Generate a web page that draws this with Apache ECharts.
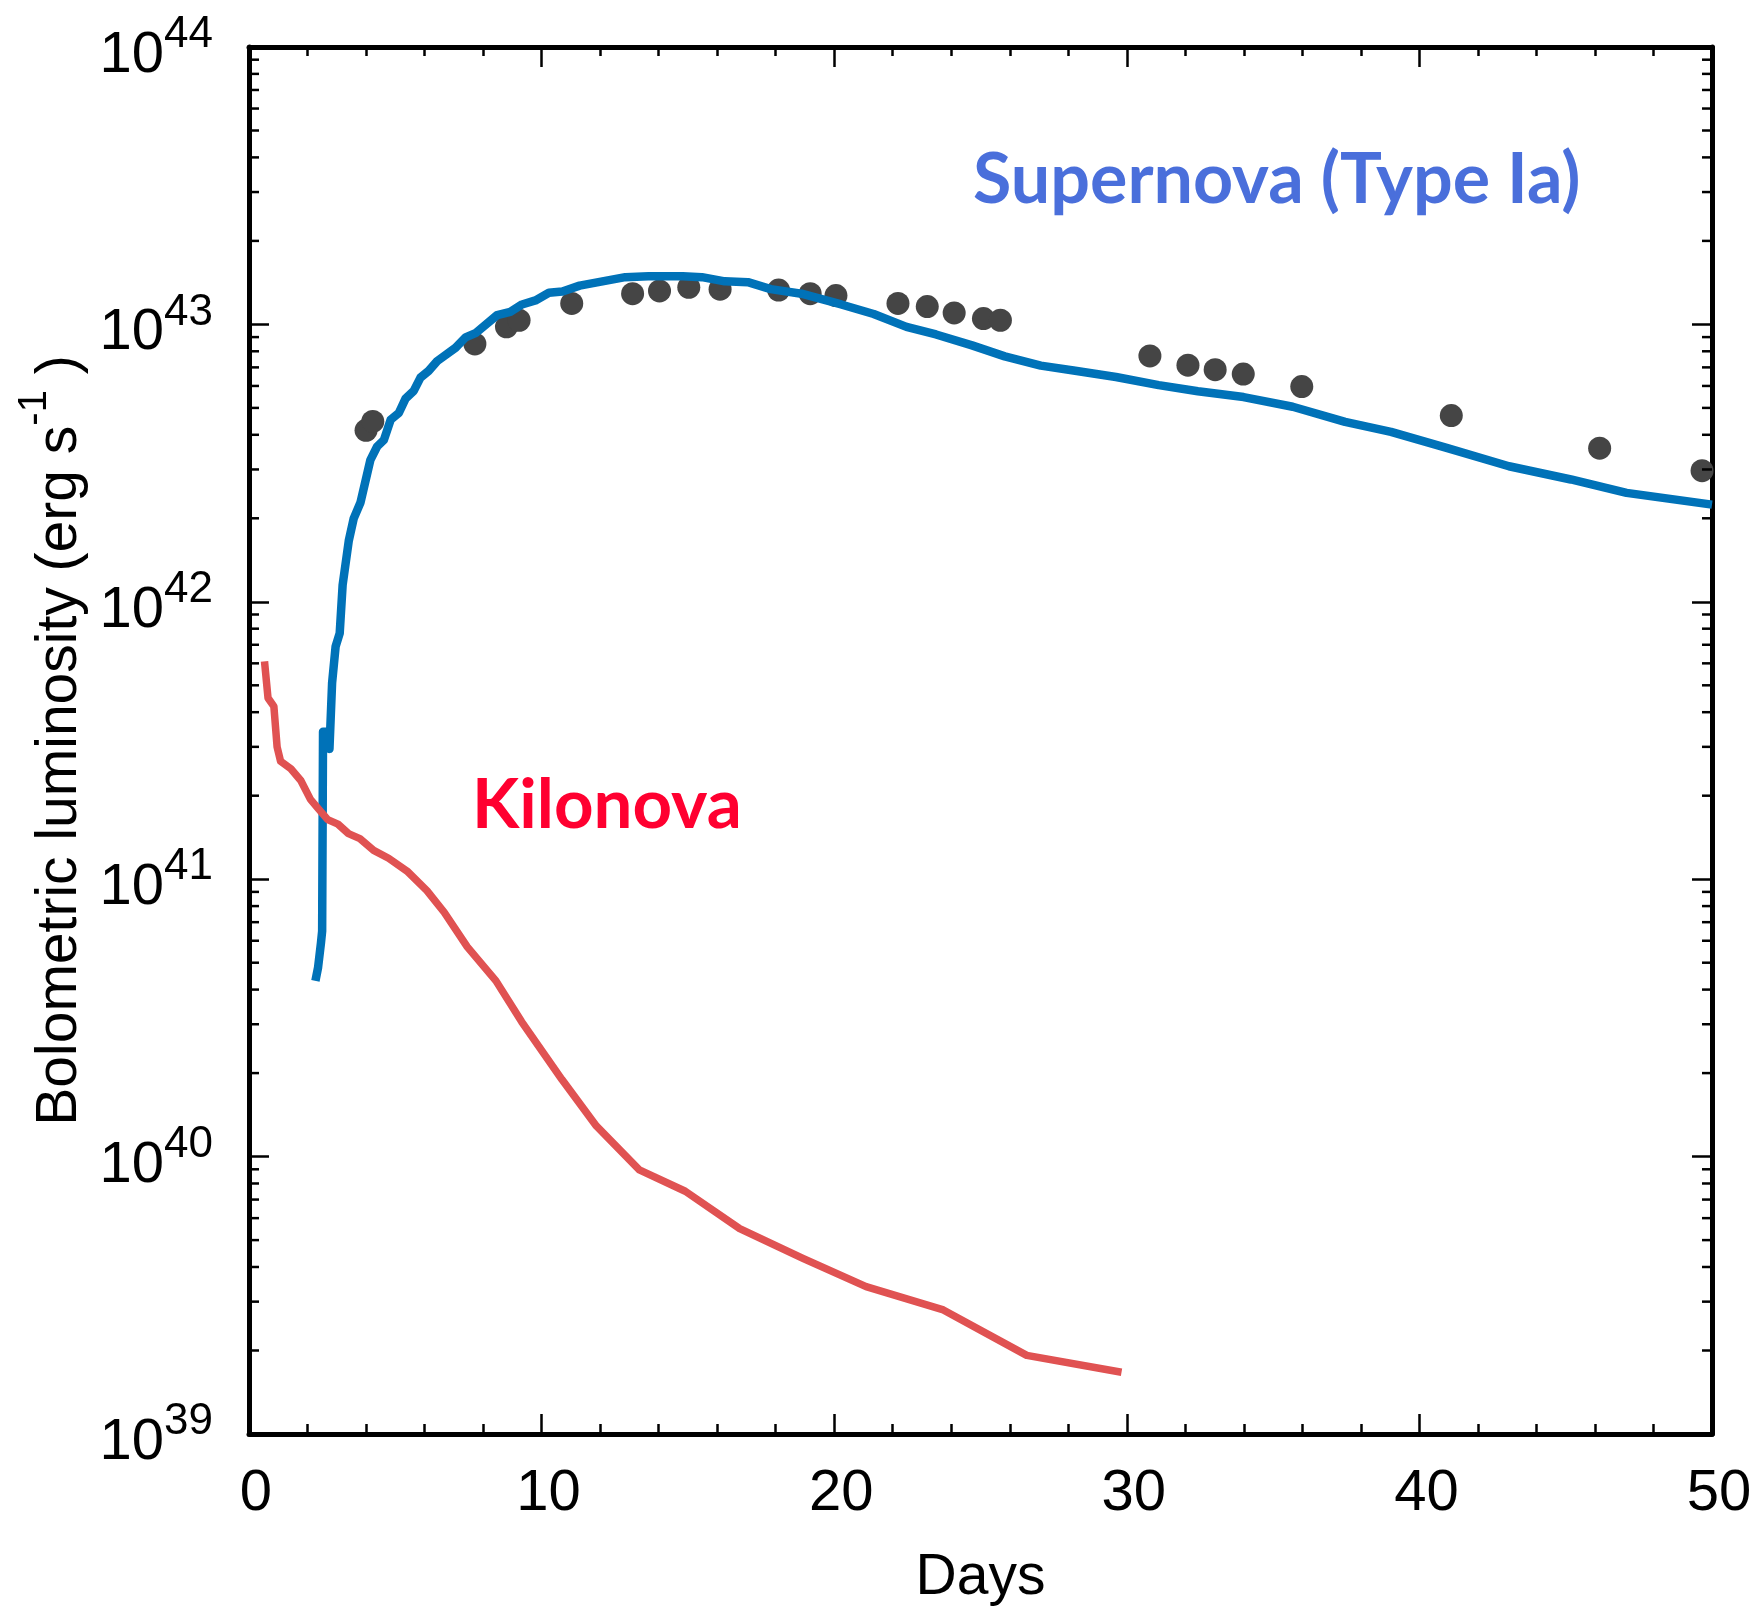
<!DOCTYPE html>
<html>
<head>
<meta charset="utf-8">
<script src="https://cdn.jsdelivr.net/npm/echarts@6/dist/echarts.min.js"></script>
<style>
  html, body { margin: 0; padding: 0; background: #fff; }
  #chart { width: 1764px; height: 1612px; }
</style>
</head>
<body>
<div id="chart"></div>
<script>
// Type Ia supernova model light curve
const snModelDays = [2.27, 2.36, 2.46, 2.50, 2.53, 2.68, 2.75, 2.84, 2.96, 3.10, 3.20, 3.41, 3.58, 3.81,
  4.15, 4.38, 4.61, 4.84, 5.12, 5.35, 5.63, 5.86, 6.14, 6.43, 7.06, 7.40, 7.74, 8.48, 8.93, 9.33,
  9.79, 10.25, 10.71, 11.30, 12.08, 12.86, 13.65, 14.83, 15.48, 16.26, 17.05, 17.83, 18.88, 20.24,
  21.35, 22.47, 23.48, 24.71, 25.83, 27.06, 28.18, 29.63, 31.09, 32.43, 33.99, 35.67, 37.46, 39.03,
  40.93, 43.06, 45.18, 47.08, 50.0];
const snModelLum = [4.3e40, 4.8e40, 5.9e40, 6.5e40, 3.4e41, 3.4e41, 2.95e41, 5.1e41, 6.9e41, 7.7e41,
  1.15e42, 1.66e42, 2.0e42, 2.28e42, 3.25e42, 3.63e42, 3.83e42, 4.53e42, 4.79e42, 5.4e42, 5.76e42,
  6.43e42, 6.8e42, 7.37e42, 8.24e42, 8.98e42, 9.3e42, 1.08e43, 1.11e43, 1.18e43, 1.22e43, 1.30e43,
  1.315e43, 1.38e43, 1.43e43, 1.48e43, 1.49e43, 1.49e43, 1.48e43, 1.43e43, 1.42e43, 1.34e43, 1.29e43,
  1.18e43, 1.09e43, 9.8e42, 9.2e42, 8.4e42, 7.67e42, 7.1e42, 6.82e42, 6.46e42, 6.04e42, 5.74e42,
  5.47e42, 5.05e42, 4.45e42, 4.10e42, 3.59e42, 3.08e42, 2.76e42, 2.47e42, 2.24e42];

// Observed supernova bolometric luminosities
const snObsDays = [4.00, 4.23, 7.72, 8.80, 9.23, 11.03, 13.11, 14.03, 15.03, 16.10, 18.10, 19.18, 20.06,
  22.18, 23.18, 24.10, 25.10, 25.68, 30.79, 32.09, 33.02, 33.98, 35.98, 41.09, 46.16, 49.66];
const snObsLum = [4.15e42, 4.47e42, 8.5e42, 9.8e42, 1.035e43, 1.19e43, 1.29e43, 1.32e43, 1.36e43,
  1.34e43, 1.33e43, 1.29e43, 1.27e43, 1.19e43, 1.16e43, 1.10e43, 1.05e43, 1.035e43, 7.7e42, 7.13e42,
  6.87e42, 6.62e42, 5.97e42, 4.69e42, 3.58e42, 2.97e42];

// Kilonova model light curve
const knDays = [0.53, 0.65, 0.85, 0.96, 1.08, 1.43, 1.77, 2.10, 2.36, 2.69, 3.04, 3.40, 3.79, 4.26,
  4.77, 5.40, 6.08, 6.67, 7.46, 8.44, 9.32, 10.69, 11.87, 13.34, 14.91, 16.77, 18.93, 21.09, 23.73,
  26.58, 29.82];
const knLum = [6.1e41, 4.5e41, 4.2e41, 3.0e41, 2.66e41, 2.5e41, 2.27e41, 1.94e41, 1.80e41, 1.64e41,
  1.58e41, 1.46e41, 1.40e41, 1.27e41, 1.19e41, 1.07e41, 9.1e40, 7.6e40, 5.7e40, 4.3e40, 3.06e40,
  1.9e40, 1.29e40, 8.95e39, 7.5e39, 5.5e39, 4.3e39, 3.4e39, 2.8e39, 1.92e39, 1.67e39];

// Axis ticks
const xTickValues = [0, 10, 20, 30, 40, 50];
const yTickExponents = [39, 40, 41, 42, 43, 44];
const yMinorMantissas = [2, 3, 4, 5, 6, 7, 8, 9];

const zip = (xs, ys) => xs.map((x, i) => [x, ys[i]]);

const xMin = xTickValues[0];
const xMax = xTickValues[xTickValues.length - 1];
const yMin = Math.pow(10, yTickExponents[0]);
const yMax = Math.pow(10, yTickExponents[yTickExponents.length - 1]);

// minor ticks of the log axis: 2..9 within each decade
const yMinorTicks = [];
yTickExponents.slice(0, -1).forEach(e => {
  yMinorMantissas.forEach(m => yMinorTicks.push([xMin, m * Math.pow(10, e)]));
});

const FONT = '"Liberation Sans", Arial, Helvetica, sans-serif';
const LABEL_FONT = 'Lato, "Open Sans", sans-serif';
const AXIS_W = 5;
const TICK_W = 2.5;

const axisLine = { show: true, onZero: false, lineStyle: { color: '#000', width: AXIS_W } };
const majorTick = { show: true, inside: true, length: 20, lineStyle: { color: '#000', width: TICK_W } };
const minorTick = { show: true, splitNumber: 5, length: 10, lineStyle: { color: '#000', width: TICK_W } };

const chart = echarts.init(document.getElementById('chart'), null, { renderer: 'canvas' });

chart.setOption({
  backgroundColor: '#fff',
  animation: false,
  grid: { left: 249, top: 47, width: 1463, height: 1389 },
  xAxis: [
    {
      type: 'value', min: xMin, max: xMax, interval: 10, position: 'bottom',
      name: 'Days', nameLocation: 'middle', nameGap: 116,
      nameTextStyle: { fontFamily: FONT, fontSize: 57, color: '#000' },
      axisLine: axisLine, axisTick: majorTick, minorTick: minorTick,
      splitLine: { show: false },
      axisLabel: {
        show: true, fontFamily: FONT, fontSize: 58, color: '#000', margin: 31,
        padding: [0, 0, 0, 14], showMinLabel: true, showMaxLabel: true
      }
    },
    {
      type: 'value', min: xMin, max: xMax, interval: 10, position: 'top',
      axisLine: axisLine, axisTick: majorTick,
      minorTick: { show: true, splitNumber: 5, length: 9, lineStyle: { color: '#000', width: TICK_W } },
      splitLine: { show: false }, axisLabel: { show: false }
    }
  ],
  yAxis: [
    {
      type: 'log', logBase: 10, min: yMin, max: yMax, position: 'left',
      name: '{t|Bolometric luminosity (erg s}{u|-1}{t| )}',
      nameLocation: 'middle', nameGap: 138, nameRotate: 90,
      nameTextStyle: {
        color: '#000',
        rich: {
          t: { fontFamily: FONT, fontSize: 57, lineHeight: 90, color: '#000' },
          u: { fontFamily: FONT, fontSize: 40, lineHeight: 40, verticalAlign: 'top', color: '#000' }
        }
      },
      axisLine: axisLine, axisTick: majorTick,
      splitLine: { show: false },
      axisLabel: {
        show: true, margin: 36, padding: [18, 0, 0, 0],
        formatter: v => '{b|10}{s|' + Math.round(Math.log10(v)) + '}',
        rich: {
          b: { fontFamily: FONT, fontSize: 58, lineHeight: 86, color: '#000' },
          s: { fontFamily: FONT, fontSize: 44, lineHeight: 14, verticalAlign: 'top', color: '#000' }
        }
      }
    },
    {
      type: 'log', logBase: 10, min: yMin, max: yMax, position: 'right',
      axisLine: axisLine, axisTick: majorTick,
      splitLine: { show: false }, axisLabel: { show: false }
    }
  ],
  series: [
    {
      name: 'Observed',
      type: 'scatter',
      data: zip(snObsDays, snObsLum),
      symbol: 'circle', symbolSize: 23,
      itemStyle: { color: '#454545', opacity: 1 },
      z: 2
    },
    {
      name: 'Supernova model',
      type: 'line',
      data: zip(snModelDays, snModelLum),
      showSymbol: false, smooth: false,
      lineStyle: { color: '#0072b8', width: 8.5, join: 'round' },
      z: 3
    },
    {
      name: 'Kilonova model',
      type: 'line',
      data: zip(knDays, knLum),
      showSymbol: false, smooth: false,
      lineStyle: { color: '#e05252', width: 7.5, join: 'round' },
      z: 4
    },
    {
      // minor ticks of the logarithmic axes, drawn on both the left and right frame edges
      name: 'yMinorTicks',
      type: 'custom',
      silent: true,
      clip: false,
      data: yMinorTicks,
      z: 5,
      renderItem: function (params, api) {
        const cs = params.coordSys;
        const y = api.coord([api.value(0), api.value(1)])[1];
        const st = { stroke: '#000', lineWidth: TICK_W };
        return {
          type: 'group',
          children: [
            { type: 'line', shape: { x1: cs.x, y1: y, x2: cs.x + 10, y2: y }, style: st },
            { type: 'line', shape: { x1: cs.x + cs.width - 10, y1: y, x2: cs.x + cs.width, y2: y }, style: st }
          ]
        };
      }
    }
  ],
  graphic: [
    {
      type: 'text', left: 973, top: 145,
      style: { text: 'Supernova (Type Ia)', fontFamily: LABEL_FONT, fontWeight: 'bold', fontSize: 70, fill: '#4a6fdb' }
    },
    {
      type: 'text', left: 472, top: 771,
      style: { text: 'Kilonova', fontFamily: LABEL_FONT, fontWeight: 'bold', fontSize: 69, fill: '#ff0030' }
    }
  ]
});
</script>
</body>
</html>
